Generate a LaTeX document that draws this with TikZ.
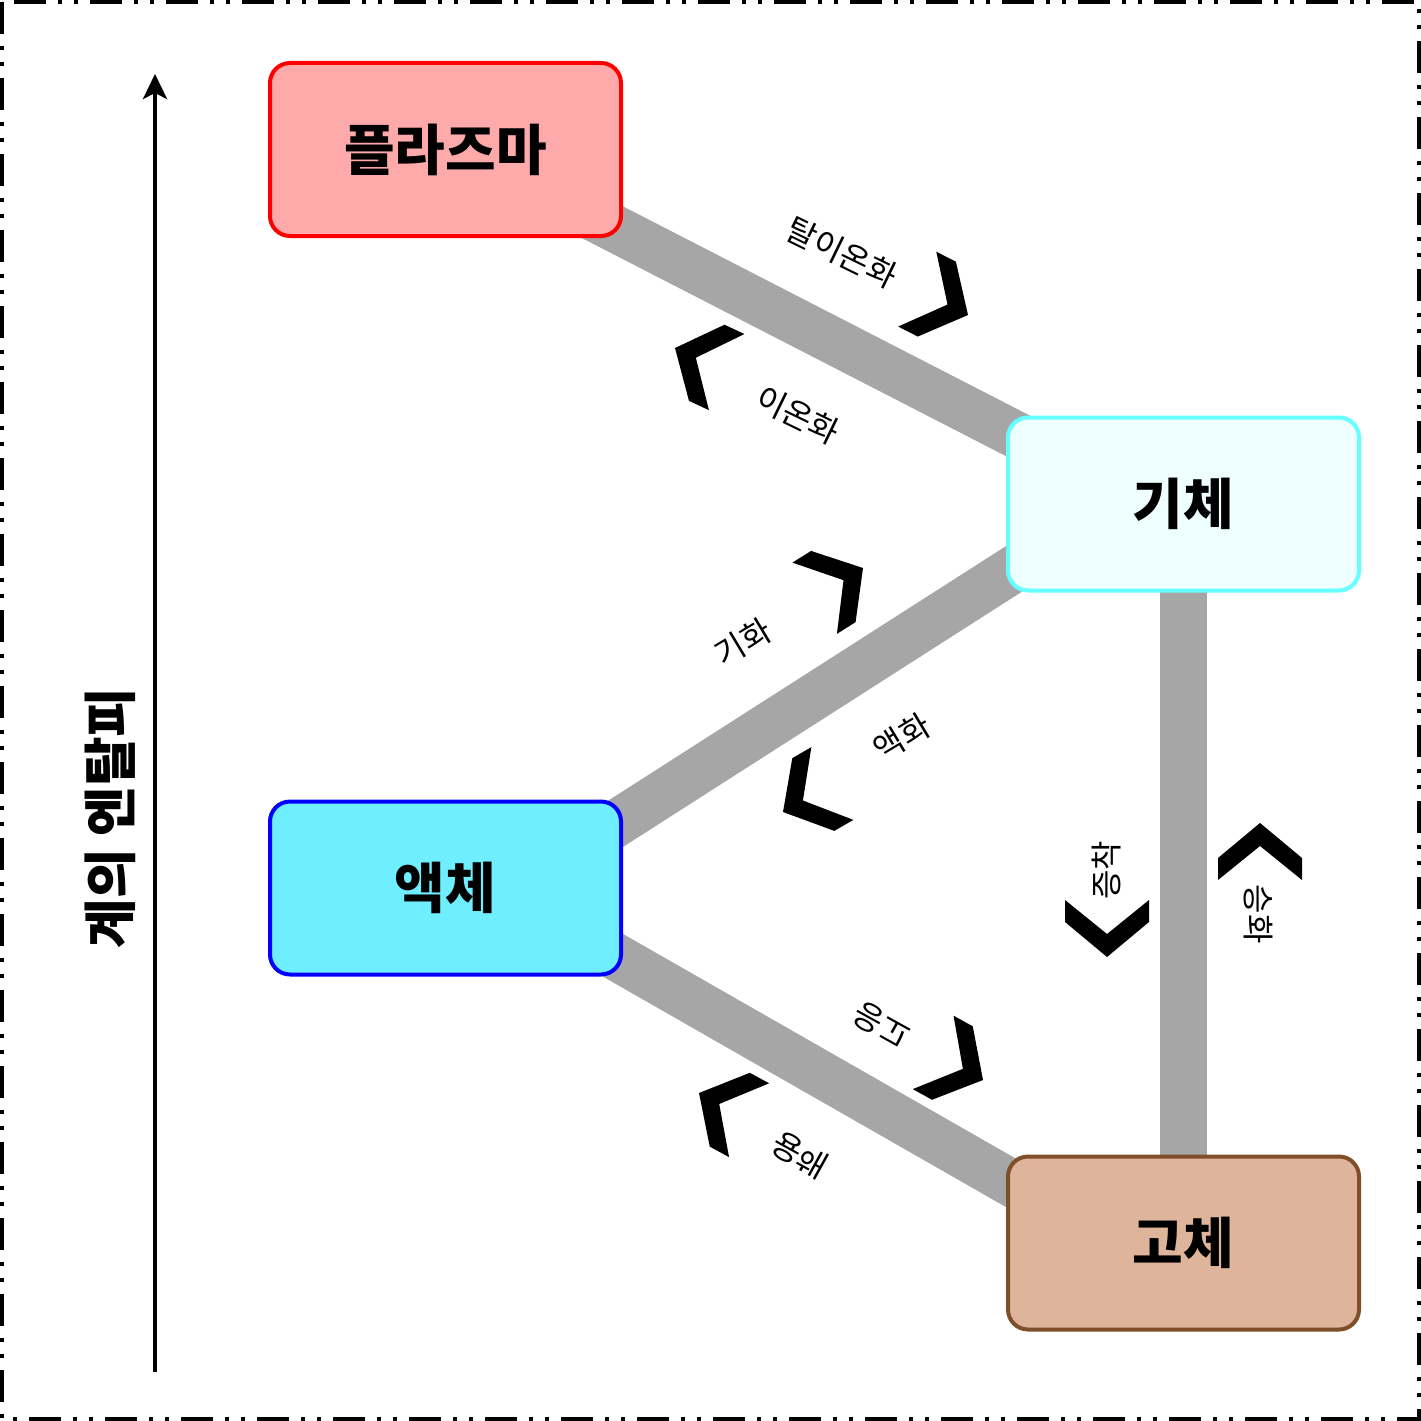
\documentclass[tikz,border=0pt]{standalone}
\usepackage{fontspec}
\setmainfont{Noto Sans CJK KR}
\usetikzlibrary{arrows.meta,backgrounds}

\definecolor{plasmafill}{HTML}{FFAAAA}
\definecolor{plasmaline}{HTML}{FF0000}
\definecolor{gasfill}{HTML}{EFFFFF}
\definecolor{gasline}{HTML}{66FFFF}
\definecolor{liquidfill}{HTML}{6EEEFF}
\definecolor{liquidline}{HTML}{0000FF}
\definecolor{solidfill}{HTML}{DEB59A}
\definecolor{solidline}{HTML}{7F4F2A}
\definecolor{linkgray}{HTML}{A6A6A6}

\begin{document}
\begin{tikzpicture}[
    x=1pt, y=-1pt,
    phase/.style={draw, line width=4pt, rounded corners=20pt, minimum width=351pt, minimum height=173pt, font=\fontsize{55}{66}\selectfont\bfseries},
    link/.style={draw=linkgray, line width=47pt},
    changelabel/.style={font=\fontsize{32}{38}\selectfont, inner sep=0pt},
    enthalpy/.style={line width=4pt, -{Stealth[length=25pt, width=24pt, inset=6pt]}},
    chev/.pic={\fill (0,0) -- (-35,42) -- (-57,42) -- (-23,0) -- (-57,-42) -- (-35,-42) -- cycle;}
]
\useasboundingbox (0,0) rectangle (1421,1421);

% Outer frame
\draw[line width=4pt, dash pattern=on 32pt off 12pt on 4pt off 12pt on 4pt off 12pt] (2,2) rectangle (1419,1419);

% Phase boxes
\node[phase, fill=plasmafill, draw=plasmaline] (plasma) at (445.5,149.5) {플라즈마};
\node[phase, fill=gasfill, draw=gasline] (gas) at (1183.5,504) {기체};
\node[phase, fill=liquidfill, draw=liquidline] (liquid) at (445.5,888) {액체};
\node[phase, fill=solidfill, draw=solidline] (solid) at (1183.5,1243) {고체};

% Phase transition bars
\begin{scope}[on background layer]
\draw[link] ([yshift=8pt]plasma.center) -- ([yshift=-17pt]gas.center);
\draw[link] ([yshift=43.6pt]gas.center) -- ([yshift=-44.6pt]liquid.center);
\draw[link] ([yshift=28.5pt]liquid.center) -- ([yshift=-38.5pt]solid.center);
\draw[link] (gas.center) -- (solid.center);
\end{scope}

% Direction chevrons
\pic[rotate=-27] at (968,315) {chev};
\pic[rotate=155] at (675,348) {chev};
\pic[rotate=32] at (863,568) {chev};
\pic[rotate=210] at (783,812) {chev};
\pic[rotate=-29] at (983,1080) {chev};
\pic[rotate=151.5] at (699,1093) {chev};
\pic[rotate=-90] at (1107,957) {chev};
\pic[rotate=90] at (1260,823) {chev};

% Transition names
\node[changelabel, rotate=-26] (deion) at (842,253) {탈이온화};
\node[changelabel, rotate=-26] (ion) at (798,415) {이온화};
\node[changelabel, rotate=31] (vapor) at (743,642) {기화};
\node[changelabel, rotate=31] (liquef) at (902,737) {액화};
\node[changelabel, rotate=-29, yscale=-1] (freeze) at (882,1025) {응고};
\node[changelabel, rotate=-29, yscale=-1] (melt) at (800,1155) {융해};
\node[changelabel, rotate=90] (depos) at (1106,870) {증착};
\node[changelabel, rotate=-90] (sublim) at (1258,914) {승화};

% Enthalpy axis
\coordinate (axisbot) at (155,1372);
\coordinate (axistop) at (155,74);
\draw[enthalpy] (axisbot) -- (axistop);
\node[rotate=90, font=\fontsize{54}{64}\selectfont\bfseries] (axislabel) at (110,818) {계의 엔탈피};

\end{tikzpicture}
\end{document}
